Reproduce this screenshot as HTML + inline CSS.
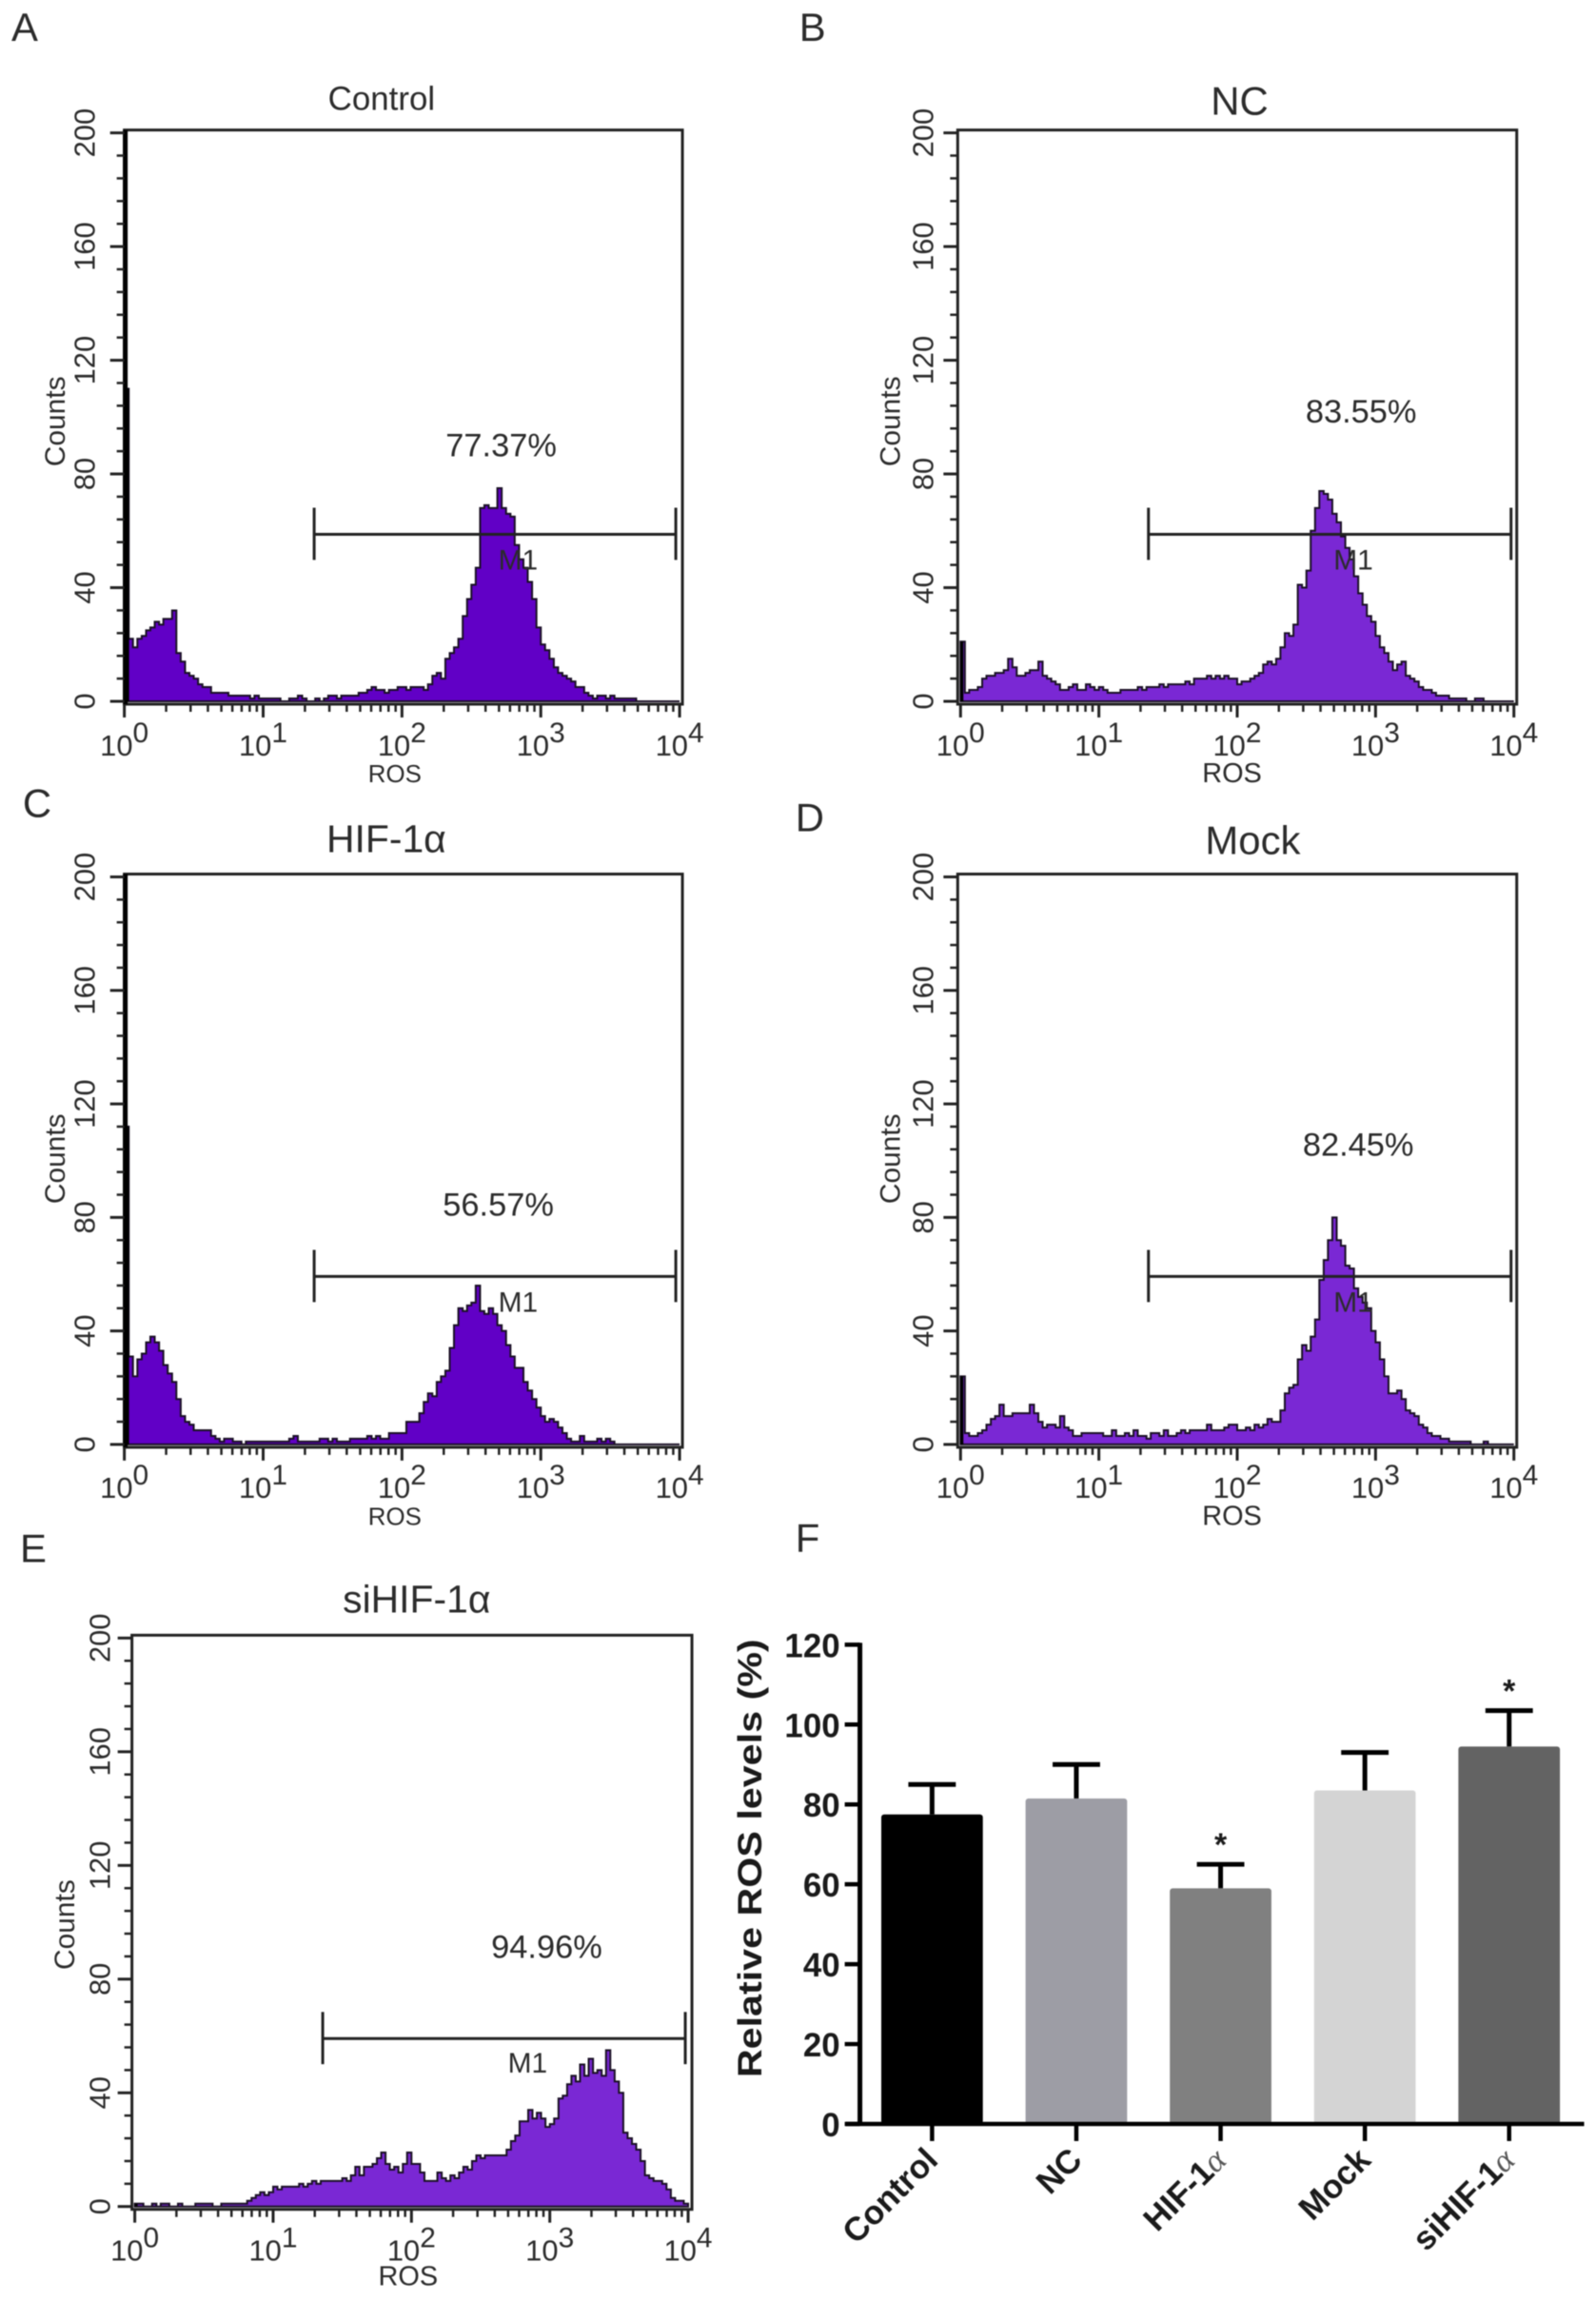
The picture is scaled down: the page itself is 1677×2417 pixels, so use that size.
<!DOCTYPE html>
<html lang="en">
<head>
<meta charset="utf-8">
<title>ROS flow cytometry panels</title>
<style>
html,body{margin:0;padding:0;background:#fff;width:1677px;height:2417px;overflow:hidden}
svg{display:block;font-family:"Liberation Sans",Arial,sans-serif;filter:blur(0.6px)}
</style>
</head>
<body>
<svg id="figure" xmlns="http://www.w3.org/2000/svg" width="1677" height="2417" viewBox="0 0 1681.5 2423.5"></svg>
<script>
// ---------- data: histogram counts per channel bin ----------
const countsControl = [110,22,19,22,23,25,26,28,27,29,29,32,17,14,10,9,8,6,5,5,3,3,3,3,2,2,2,2,2,1,2,1,1,1,1,1,0,0,1,1,2,1,0,0,1,0,1,2,2,1,2,2,2,2,3,3,4,5,4,4,3,4,4,5,5,4,5,5,5,4,6,9,10,8,15,17,19,22,30,36,41,47,68,69,68,68,75,68,66,65,55,50,47,42,36,26,20,18,15,12,10,9,8,7,5,5,3,2,1,2,2,1,2,1,1,1,1,1,0,0,0,0,0,0,0,0,0,0];
const countsNC = [21,3,4,4,5,8,9,9,10,10,11,15,12,9,9,10,11,11,14,9,8,7,6,4,4,5,6,4,4,6,5,4,5,4,3,3,3,4,4,4,4,5,4,5,5,5,6,5,6,6,6,6,7,6,8,8,8,9,8,9,8,9,8,8,6,7,7,8,9,10,13,14,13,15,19,24,23,27,41,40,46,60,68,74,73,71,66,63,58,54,50,44,38,34,30,28,23,19,17,14,11,13,14,9,8,7,5,4,4,3,2,2,2,1,1,1,1,0,0,1,1,0,0,0,0,0,0,0];
const countsHIF = [112,31,24,30,32,36,38,36,33,28,25,22,16,10,8,7,5,5,5,5,3,2,1,2,2,1,1,0,1,1,1,1,1,1,1,1,1,1,2,3,1,1,1,1,1,2,2,1,2,1,1,1,2,2,2,2,3,2,3,2,2,4,4,4,4,8,8,8,11,15,18,17,22,24,26,34,42,48,47,49,50,56,47,46,48,46,42,40,35,31,27,27,22,19,16,13,10,8,9,8,6,4,2,1,1,3,1,1,1,2,1,2,1,0,0,0,0,0,0,0,0,0,0,0,0,0,0,0];
const countsMock = [24,4,3,3,4,5,7,9,10,14,10,10,11,11,11,11,14,11,8,6,7,7,6,10,6,5,3,3,4,4,4,4,4,3,3,5,3,3,4,3,5,3,3,2,4,4,3,5,3,3,4,5,4,5,5,5,5,7,5,5,5,6,7,7,5,5,6,5,7,6,7,9,8,8,12,18,20,21,30,35,33,38,44,58,65,72,80,72,70,63,62,55,52,50,48,40,36,30,24,18,18,19,16,12,11,10,7,6,4,3,3,2,2,1,1,1,1,1,0,0,0,1,0,0,0,0,0,0];
const countsSi = [1,1,0,0,1,0,1,1,0,0,1,0,0,0,1,1,1,1,0,0,1,1,1,1,1,1,2,3,4,5,4,5,7,6,7,7,7,7,8,7,8,9,8,9,9,9,9,9,10,9,11,14,11,14,14,15,17,19,15,13,14,12,15,19,15,15,12,9,9,9,12,10,9,11,10,12,14,13,16,18,17,18,18,18,18,18,20,23,25,30,30,34,31,33,31,28,29,31,38,39,43,46,44,50,46,52,47,48,46,55,48,44,40,26,24,22,20,16,11,10,9,9,8,6,3,2,2,1];

// ---------- data: axis ticks and printed labels ----------
const countTicks = [0,40,80,120,160,200];
const decades = [0,1,2,3,4];
const panelNames = ["Control","NC","HIF-1α","Mock","siHIF-1α"];
const panelPercents = ["77.37%","83.55%","56.57%","82.45%","94.96%"];

// ---------- data: bar chart ----------
const barCategories = ["Control","NC","HIF-1","Mock","siHIF-1"];
const barValues = [77.5,81.5,59,83.5,94.5];
const barUppers = [85,90,65,93,103.5];
const barSignificant = [false,false,true,false,true];
const barTicks = [0,20,40,60,80,100,120];

// ---------- layout ----------
const svg = document.getElementById('figure');
const NS = 'http://www.w3.org/2000/svg';
const INK = '#2b2b2b';

function svgEl(parent, tag, name, interactable, attrs, text) {
  const el = document.createElementNS(NS, tag);
  
  
  for (const k in attrs) el.setAttribute(k, attrs[k]);
  if (text !== undefined) el.textContent = text;
  parent.appendChild(el);
  return el;
}

const panels = [
  {id:'a', letter:'A', lx:12, ly:43, counts:countsControl, idx:0, fill:'#6100c6', thick:true,
   L:131,R:719,x0:131,x4:716,y200:140,y0:739,
   tx:402,ty:116,tfs:35, px:528,py:481, gx1:331,gx2:712,gy:563, mx:525,my:600,
   yl:100,cx:68,cy:444, rx:416,ry:824,rfs:26, xb:796},
  {id:'b', letter:'B', lx:842, ly:43, counts:countsNC, idx:1, fill:'#7a28d4', thick:false,
   L:1009,R:1598,x0:1012,x4:1595,y200:140,y0:739,
   tx:1306,ty:121,tfs:42, px:1434,py:445, gx1:1210,gx2:1592,gy:563, mx:1405,my:600,
   yl:983,cx:948,cy:444, rx:1298,ry:824,rfs:29, xb:796},
  {id:'c', letter:'C', lx:24, ly:861, counts:countsHIF, idx:2, fill:'#6100c6', thick:true,
   L:131,R:719,x0:131,x4:716,y200:924,y0:1522,
   tx:407,ty:898,tfs:41, px:525,py:1281, gx1:331,gx2:712,gy:1345, mx:525,my:1382,
   yl:100,cx:68,cy:1221, rx:416,ry:1607,rfs:26, xb:1578},
  {id:'d', letter:'D', lx:838, ly:876, counts:countsMock, idx:3, fill:'#7a28d4', thick:false,
   L:1009,R:1598,x0:1012,x4:1595,y200:924,y0:1522,
   tx:1320,ty:900,tfs:42, px:1431,py:1218, gx1:1210,gx2:1592,gy:1345, mx:1405,my:1382,
   yl:983,cx:948,cy:1221, rx:1298,ry:1607,rfs:29, xb:1578},
  {id:'e', letter:'E', lx:21, ly:1646, counts:countsSi, idx:4, fill:'#7a28d4', thick:false,
   L:139,R:729,x0:142,x4:725,y200:1726,y0:2325,
   tx:439,ty:1699,tfs:41, px:576,py:2063, gx1:340,gx2:722,gy:2148, mx:535,my:2184,
   yl:116,cx:78,cy:2028, rx:430,ry:2408,rfs:29, xb:2382}
];

function drawHistogram(p) {
  const g = svgEl(svg, 'g', 'histogram-panel-' + p.id, 'false', {});
  const yOf = c => p.y0 - c * (p.y0 - p.y200) / 200;
  const xOfLog = d => p.x0 + d * (p.x4 - p.x0) / 4;
  const n = p.counts.length;
  const binW = (p.x4 - p.x0) / n;
  const xOfBin = i => p.x0 + i * binW;

  svgEl(g, 'text', 'panel-letter', 'false', {x:p.lx,y:p.ly,'font-size':42,fill:INK}, p.letter);
  svgEl(g, 'text', 'panel-title', 'false', {x:p.tx,y:p.ty,'font-size':p.tfs,fill:INK,'text-anchor':'middle'}, panelNames[p.idx]);

  // histogram outline + fill
  let d = 'M' + xOfBin(0) + ' ' + yOf(0);
  p.counts.forEach((c, i) => {
    d += ' L' + xOfBin(i).toFixed(1) + ' ' + yOf(c).toFixed(1) + ' L' + xOfBin(i + 1).toFixed(1) + ' ' + yOf(c).toFixed(1);
  });
  d += ' L' + xOfBin(n) + ' ' + yOf(0) + ' Z';
  svgEl(g, 'path', 'histogram-area', 'false', {d:d, fill:p.fill, stroke:'#1a1025','stroke-width':2,'stroke-linejoin':'miter'});
  svgEl(g, 'rect', 'histogram-first-channel', 'false', {x:xOfBin(0),y:yOf(p.counts[0]),width:p.thick?5:3,height:yOf(0)-yOf(p.counts[0]),fill:'#000'});

  // frame
  svgEl(g, 'rect', 'plot-frame', 'false', {x:p.L,y:p.y200-3,width:p.R-p.L,height:p.y0-p.y200+6,fill:'none',stroke:'#222','stroke-width':3});
  if (p.thick) {
    svgEl(g, 'line', 'plot-left-edge', 'false', {x1:p.L+1,x2:p.L+1,y1:p.y200-3,y2:p.y0+3,stroke:'#000','stroke-width':5});
  }

  // y axis ticks
  for (let v = 0; v <= 200; v += 8) {
    const major = v % 40 === 0;
    svgEl(g, 'line', major ? 'y-major-tick' : 'y-minor-tick', 'false', {x1:p.L-(major?15:8),x2:p.L,y1:yOf(v),y2:yOf(v),stroke:'#222','stroke-width':major?3:2.5});
  }
  countTicks.forEach(v => {
    svgEl(g, 'text', 'y-tick-label', 'false', {x:p.yl,y:yOf(v),'font-size':31,fill:INK,'text-anchor':'middle',transform:'rotate(-90 '+p.yl+' '+yOf(v)+')'}, String(v));
  });
  svgEl(g, 'text', 'y-axis-title', 'false', {x:p.cx,y:p.cy,'font-size':30,fill:INK,'text-anchor':'middle',transform:'rotate(-90 '+p.cx+' '+p.cy+')'}, 'Counts');

  // x axis ticks
  const bottom = p.y0 + 3;
  decades.forEach(dec => {
    svgEl(g, 'line', 'x-major-tick', 'false', {x1:xOfLog(dec),x2:xOfLog(dec),y1:bottom,y2:bottom+14,stroke:'#222','stroke-width':3});
    if (dec < 4) {
      for (let m = 2; m < 10; m++) {
        const xm = xOfLog(dec + Math.log10(m));
        svgEl(g, 'line', 'x-minor-tick', 'false', {x1:xm,x2:xm,y1:bottom,y2:bottom+8,stroke:'#222','stroke-width':2.5});
      }
    }
    const t = svgEl(g, 'text', 'x-tick-label', 'false', {x:xOfLog(dec),y:p.xb,'font-size':31,fill:INK,'text-anchor':'middle'}, '10');
    svgEl(t, 'tspan', 'x-tick-exponent', 'false', {dy:-14,'font-size':30}, String(dec));
  });
  svgEl(g, 'text', 'x-axis-title', 'false', {x:p.rx,y:p.ry,'font-size':p.rfs,fill:INK,'text-anchor':'middle'}, 'ROS');

  // M1 gate
  svgEl(g, 'line', 'gate-bar', 'false', {x1:p.gx1,x2:p.gx2,y1:p.gy,y2:p.gy,stroke:'#222','stroke-width':3});
  svgEl(g, 'line', 'gate-left-end', 'false', {x1:p.gx1,x2:p.gx1,y1:p.gy-28,y2:p.gy+27,stroke:'#222','stroke-width':3});
  svgEl(g, 'line', 'gate-right-end', 'false', {x1:p.gx2,x2:p.gx2,y1:p.gy-28,y2:p.gy+27,stroke:'#222','stroke-width':3});
  svgEl(g, 'text', 'gate-label', 'false', {x:p.mx,y:p.my,'font-size':30,fill:INK}, 'M1');
  svgEl(g, 'text', 'gate-percent', 'false', {x:p.px,y:p.py,'font-size':34.5,fill:INK,'text-anchor':'middle'}, panelPercents[p.idx]);
}
panels.forEach(drawHistogram);

function drawBars() {
  const g = svgEl(svg, 'g', 'bar-chart-panel-f', 'false', {});
  const X0 = 906, XEND = 1669, Y0 = 2238, Y120 = 1733;
  const firstCenter = 982, step = 152, barW = 107;
  const yOf = v => Y0 - v * (Y0 - Y120) / 120;
  const xOf = i => firstCenter + i * step;
  const colors = ['#000000','#9d9da5','#808080','#d4d4d4','#636363'];

  svgEl(g, 'text', 'panel-letter', 'false', {x:838,y:1635,'font-size':42,fill:INK}, 'F');

  barCategories.forEach((c, i) => {
    svgEl(g, 'line', 'error-stem', 'false', {x1:xOf(i),x2:xOf(i),y1:yOf(barValues[i]),y2:yOf(barUppers[i]),stroke:'#000','stroke-width':5});
    svgEl(g, 'line', 'error-cap', 'false', {x1:xOf(i)-25,x2:xOf(i)+25,y1:yOf(barUppers[i]),y2:yOf(barUppers[i]),stroke:'#000','stroke-width':5});
    svgEl(g, 'rect', 'bar-' + c.toLowerCase(), 'false', {x:xOf(i)-barW/2,y:yOf(barValues[i]),width:barW,height:Y0-yOf(barValues[i]),fill:colors[i],rx:3});
    svgEl(g, 'line', 'x-tick', 'false', {x1:xOf(i),x2:xOf(i),y1:Y0,y2:Y0+18,stroke:'#000','stroke-width':4.5});
    const lx = xOf(i) + 8, ly = Y0 + 40;
    const t = svgEl(g, 'text', 'category-label', 'false', {x:lx,y:ly,'font-size':35,'font-weight':'bold',fill:'#1a1a1a','text-anchor':'end',transform:'rotate(-45 '+lx+' '+ly+')'}, c);
    if (c.endsWith('-1')) {
      svgEl(t, 'tspan', 'alpha-symbol', 'false', {'font-family':'"Liberation Serif",serif','font-style':'italic','font-weight':'normal','fill':'#555'}, 'α');
    }
    if (barSignificant[i]) {
      svgEl(g, 'text', 'significance-star', 'false', {x:xOf(i),y:yOf(barUppers[i])-9,'font-size':34,'font-weight':'bold',fill:'#1a1a1a','text-anchor':'middle'}, '*');
    }
  });

  svgEl(g, 'line', 'y-axis-line', 'false', {x1:X0,x2:X0,y1:Y120-2,y2:Y0+2,stroke:'#000','stroke-width':5});
  svgEl(g, 'line', 'x-axis-line', 'false', {x1:X0-15,x2:XEND,y1:Y0,y2:Y0,stroke:'#000','stroke-width':4.5});
  barTicks.forEach(v => {
    svgEl(g, 'line', 'y-tick', 'false', {x1:X0-16,x2:X0,y1:yOf(v),y2:yOf(v),stroke:'#000','stroke-width':4.5});
    svgEl(g, 'text', 'y-tick-label', 'false', {x:X0-21,y:yOf(v)+13,'font-size':35,'font-weight':'bold',fill:'#1a1a1a','text-anchor':'end'}, String(v));
  });
  svgEl(g, 'text', 'y-axis-title', 'false', {x:802,y:1958,'font-size':35,'font-weight':'bold',fill:'#1a1a1a','text-anchor':'middle',textLength:462,lengthAdjust:'spacingAndGlyphs',transform:'rotate(-90 802 1958)'}, 'Relative ROS levels (%)');
}
drawBars();
</script>
</body>
</html>
